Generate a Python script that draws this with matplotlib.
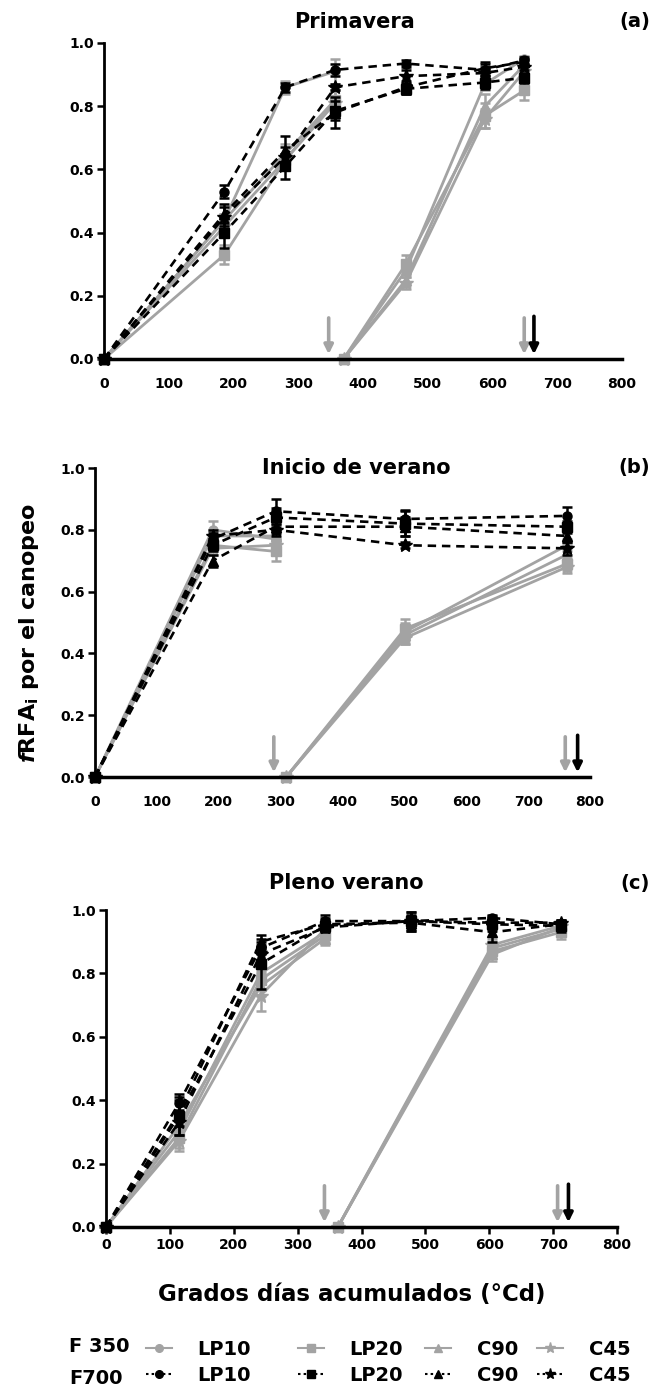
import matplotlib
matplotlib.use('Agg')
import matplotlib.pyplot as plt
from matplotlib.lines import Line2D
import numpy as np

nan = np.nan

treat = ['LP10', 'LP20', 'C90', 'C45']
markers = ['o', 's', '^', '*']

# Primavera
xa700 = [0, 186, 280, 357, 466, 588, 649]
a700 = [[0, 0.53, 0.86, 0.915, 0.935, 0.915, 0.945],
        [0, 0.40, 0.61, 0.785, 0.855, 0.875, 0.89],
        [0, 0.46, 0.66, 0.78, 0.86, 0.92, 0.94],
        [0, 0.45, 0.64, 0.86, 0.895, 0.905, 0.925]]
a700_err = [[0, 0.02, 0.015, 0.02, 0.01, 0.02, 0.01],
            [0, 0.05, 0.04, 0.03, 0.015, 0.02, 0.015],
            [0, 0.03, 0.045, 0.05, 0.02, 0.02, 0.01],
            [0, 0.03, 0.03, 0.01, 0.02, 0.02, 0.01]]
xa350 = [0, 186, 280, 357, nan, 370, 466, 588, 649]
a350 = [[0, 0.44, 0.86, 0.91, nan, 0, 0.28, 0.87, 0.95],
        [0, 0.33, 0.63, 0.82, nan, 0, 0.30, 0.77, 0.85],
        [0, 0.44, 0.65, 0.82, nan, 0, 0.25, 0.80, 0.93],
        [0, 0.42, 0.63, 0.81, nan, 0, 0.24, 0.76, 0.91]]
a350_err = [[0, 0.02, 0.02, 0.04, nan, 0, 0.02, 0.02, 0.01],
            [0, 0.03, 0.02, 0.03, nan, 0, 0.03, 0.04, 0.03],
            [0, 0.02, 0.03, 0.03, nan, 0, 0.02, 0.04, 0.02],
            [0, 0.02, 0.02, 0.02, nan, 0, 0.02, 0.03, 0.02]]

# Inicio de verano
xb700 = [0, 190, 292, 501, 763]
b700 = [[0, 0.77, 0.86, 0.835, 0.845],
        [0, 0.75, 0.84, 0.82, 0.81],
        [0, 0.70, 0.81, 0.81, 0.78],
        [0, 0.78, 0.80, 0.75, 0.74]]
b700_err = [[0, 0.02, 0.04, 0.03, 0.03],
            [0, 0.02, 0.03, 0.04, 0.02],
            [0, 0.02, 0.02, 0.03, 0.02],
            [0, 0.02, 0.02, 0.01, 0.02]]
xb350 = [0, 190, 292, nan, 309, 501, 763]
b350 = [[0, 0.80, 0.77, nan, 0, 0.47, 0.75],
        [0, 0.75, 0.73, nan, 0, 0.48, 0.69],
        [0, 0.78, 0.78, nan, 0, 0.46, 0.72],
        [0, 0.74, 0.75, nan, 0, 0.45, 0.68]]
b350_err = [[0, 0.03, 0.02, nan, 0, 0.03, 0.02],
            [0, 0.02, 0.03, nan, 0, 0.03, 0.02],
            [0, 0.02, 0.02, nan, 0, 0.03, 0.02],
            [0, 0.02, 0.02, nan, 0, 0.02, 0.02]]

# Pleno verano
xc700 = [0, 114, 242, 343, 477, 605, 712]
c700 = [[0, 0.39, 0.88, 0.965, 0.965, 0.975, 0.955],
        [0, 0.35, 0.83, 0.95, 0.965, 0.955, 0.95],
        [0, 0.36, 0.90, 0.955, 0.96, 0.93, 0.955],
        [0, 0.33, 0.86, 0.945, 0.965, 0.96, 0.96]]
c700_err = [[0, 0.03, 0.02, 0.02, 0.03, 0.01, 0.01],
            [0, 0.06, 0.08, 0.02, 0.03, 0.02, 0.02],
            [0, 0.04, 0.02, 0.02, 0.02, 0.03, 0.01],
            [0, 0.04, 0.03, 0.01, 0.02, 0.02, 0.01]]
xc350 = [0, 114, 242, 343, nan, 363, 605, 712]
c350 = [[0, 0.30, 0.80, 0.93, nan, 0, 0.88, 0.94],
        [0, 0.28, 0.78, 0.92, nan, 0, 0.87, 0.93],
        [0, 0.32, 0.76, 0.91, nan, 0, 0.86, 0.945],
        [0, 0.27, 0.73, 0.94, nan, 0, 0.89, 0.95]]
c350_err = [[0, 0.03, 0.03, 0.02, nan, 0, 0.02, 0.02],
            [0, 0.03, 0.03, 0.02, nan, 0, 0.02, 0.02],
            [0, 0.02, 0.03, 0.02, nan, 0, 0.02, 0.02],
            [0, 0.03, 0.05, 0.02, nan, 0, 0.02, 0.02]]

titles = ['Primavera', 'Inicio de verano', 'Pleno verano']
letters = ['(a)', '(b)', '(c)']
cut350 = [[347, 649], [289, 760], [342, 707]]
cut700 = [664, 780, 724]
xticks = [0, 100, 200, 300, 400, 500, 600, 700, 800]
yticks = [0.0, 0.2, 0.4, 0.6, 0.8, 1.0]

GRAY = '#a3a3a3'

plt.rcParams['font.family'] = ['DejaVu Sans']
plt.rcParams['font.weight'] = 'bold'
plt.rcParams['mathtext.fontset'] = 'custom'
plt.rcParams['mathtext.rm'] = 'DejaVu Sans:bold'
plt.rcParams['mathtext.it'] = 'DejaVu Sans:italic:bold'


def draw_panel(ax, x700, s700, e700, x350, s350, e350, c350, c700, xtick_marks):
    for i in range(4):
        ms = 10 if markers[i] == '*' else 6.5
        ax.errorbar(x350, s350[i], yerr=e350[i], color=GRAY, lw=2,
                    marker=markers[i], ms=ms, capsize=3.5, elinewidth=1.8,
                    capthick=1.8, clip_on=False, zorder=2)
    for i in range(4):
        ms = 10 if markers[i] == '*' else 6.5
        ax.errorbar(x700, s700[i], yerr=e700[i], color='black', lw=1.9,
                    ls=(0, (3.2, 2.2)), marker=markers[i], ms=ms, capsize=3.5,
                    elinewidth=1.8, capthick=1.8, clip_on=False, zorder=3)
    for c in c350:
        ax.annotate('', xy=(c, 0.015), xytext=(c, 0.13),
                    arrowprops=dict(arrowstyle='-|>', color=GRAY, lw=2.6,
                                    mutation_scale=13, shrinkA=0, shrinkB=0))
    ax.annotate('', xy=(c700, 0.015), xytext=(c700, 0.135),
                arrowprops=dict(arrowstyle='-|>', color='black', lw=2.6,
                                mutation_scale=13, shrinkA=0, shrinkB=0))
    ax.set_xlim(0, 800)
    ax.set_ylim(0, 1.0)
    ax.set_xticks(xticks)
    ax.set_yticks(yticks)
    ax.set_yticklabels(['{:.1f}'.format(v) for v in yticks])
    ax.spines['top'].set_visible(False)
    ax.spines['right'].set_visible(False)
    ax.spines['left'].set_linewidth(2)
    ax.spines['bottom'].set_linewidth(2.5)
    ax.tick_params(axis='y', width=1.8, length=5, labelsize=10, pad=2)
    if xtick_marks:
        ax.tick_params(axis='x', width=1.8, length=5, labelsize=10, pad=3)
    else:
        ax.tick_params(axis='x', length=0, labelsize=10, pad=13)


fig = plt.figure(figsize=(6.52, 13.96), dpi=100)
W, H = 652.0, 1396.0
boxes = [(104, 622, 43, 359), (95, 590, 468, 777), (106, 617, 910, 1227)]
title_pos = [(354, 22), (356, 468), (346, 883)]
panels = [(xa700, a700, a700_err, xa350, a350, a350_err),
          (xb700, b700, b700_err, xb350, b350, b350_err),
          (xc700, c700, c700_err, xc350, c350, c350_err)]

for k in range(3):
    l, r, t, b = boxes[k]
    ax = fig.add_axes([l / W, 1 - b / H, (r - l) / W, (b - t) / H])
    draw_panel(ax, *panels[k], cut350[k], cut700[k], xtick_marks=(k == 2))
    fig.text(title_pos[k][0] / W, 1 - title_pos[k][1] / H, titles[k],
             ha='center', va='center', fontsize=15, fontweight='bold')
    fig.text(650 / W, 1 - title_pos[k][1] / H, letters[k],
             ha='right', va='center', fontsize=14, fontweight='bold')

fig.text(29 / W, 1 - 633 / H, r'$\mathit{f}$RFA$_{\mathrm{i}}$ por el canopeo',
         rotation=90, ha='center', va='center', fontsize=16, fontweight='bold')
fig.text(352 / W, 1 - 1295 / H, 'Grados días acumulados (°Cd)',
         ha='center', va='center', fontsize=16.5, fontweight='bold')

# legend
fig.text(69 / W, 1 - 1347 / H, 'F 350', ha='left', va='center',
         fontsize=14, fontweight='bold')
fig.text(69 / W, 1 - 1378 / H, 'F700', ha='left', va='center',
         fontsize=14, fontweight='bold')
leg_x = [146, 298, 425, 537]
for i in range(4):
    ms = 8 if markers[i] == '*' else 5.5
    h350 = Line2D([], [], color=GRAY, lw=1.5, marker=markers[i], ms=ms)
    h700 = Line2D([], [], color='black', lw=1.5, ls=(0, (1.2, 1.5)),
                  marker=markers[i], ms=ms)
    fig.legend([h350, h700], [treat[i], treat[i]], loc='center left',
               bbox_to_anchor=(leg_x[i] / W, 1 - 1362.5 / H), frameon=False,
               fontsize=14, handlelength=1.35, handletextpad=1.3,
               labelspacing=0.35, borderpad=0, borderaxespad=0)

fig.savefig('out.png', dpi=100)
